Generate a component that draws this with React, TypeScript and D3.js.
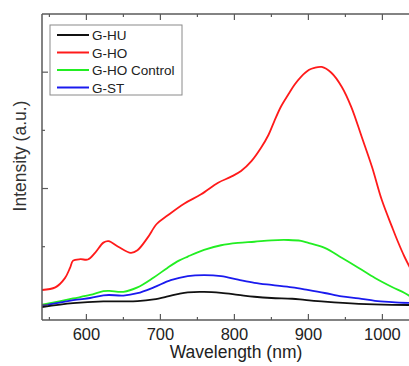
import { useEffect, useRef } from 'react';
import * as d3 from 'd3';

// wavelength (nm) / intensity (a.u.)
const redX = [540, 558, 571, 578, 582, 592, 602, 612, 623, 630, 643, 660, 669, 683, 695, 710, 732, 755, 778, 795, 809, 823, 836, 846, 854, 863, 873, 881, 890, 901, 908, 918, 931, 945, 958, 972, 986, 999, 1013, 1020, 1030, 1039];
const redY = [256, 300, 460, 640, 760, 785, 780, 900, 1070, 1095, 1000, 895, 940, 1160, 1390, 1540, 1740, 1900, 2100, 2200, 2300, 2470, 2700, 2920, 3160, 3410, 3620, 3780, 3920, 4040, 4075, 4090, 3990, 3750, 3400, 2890, 2370, 1810, 1340, 1115, 823, 600];

const greenX = [540, 582, 605, 623, 631, 650, 669, 691, 710, 725, 737, 759, 782, 805, 827, 850, 873, 890, 899, 922, 945, 968, 990, 1013, 1030, 1039];
const greenY = [2, 110, 170, 235, 240, 225, 300, 470, 640, 760, 830, 945, 1025, 1065, 1085, 1110, 1115, 1100, 1070, 980, 810, 634, 462, 307, 204, 135];

const blueX = [540, 582, 605, 623, 631, 650, 669, 691, 714, 737, 759, 782, 805, 827, 850, 878, 899, 922, 945, 968, 990, 1013, 1039];
const blueY = [-19, 80, 118, 165, 170, 160, 200, 300, 425, 495, 512, 495, 435, 380, 342, 300, 256, 204, 145, 110, 70, 49, 32];

const blackX = [540, 582, 623, 650, 669, 691, 710, 725, 737, 759, 782, 805, 827, 850, 878, 895, 922, 968, 1013, 1039];
const blackY = [-37, 30, 60, 60, 65, 95, 145, 190, 215, 222, 205, 172, 140, 118, 105, 85, 55, 18, 0, -2];

const seriesNames = ['G-HU', 'G-HO', 'G-HO Control', 'G-ST'];
const seriesColors = ['#111111', '#ff1a1a', '#22ee22', '#1a1aee'];
const xTicks = [600, 700, 800, 900, 1000];
const xMinor = [550, 650, 750, 850, 950, 1050];
const yMajor = [0, 2000, 4000];
const yMinor = [1000, 3000];

export default function App() {
  const svgRef = useRef<SVGSVGElement>(null);

  useEffect(() => {
    if (!svgRef.current) return;
    const width = 409;
    const height = 366;
    const margin = { top: 14, right: -3, bottom: 46, left: 42 };
    const innerWidth = width - margin.left - margin.right;
    const innerHeight = height - margin.top - margin.bottom;
    const font = '"Liberation Sans", Arial, sans-serif';
    const axisColor = '#5a5a5a';

    const svg = d3.select(svgRef.current);
    svg.selectAll('*').remove();

    const x = d3.scaleLinear().domain([540, 1040]).range([0, innerWidth]);
    const y = d3.scaleLinear().domain([-260, 5000]).range([innerHeight, 0]);

    const g = svg.append('g').attr('transform', `translate(${margin.left},${margin.top})`);

    g.append('clipPath').attr('id', 'plot-clip')
      .append('rect').attr('width', innerWidth).attr('height', innerHeight);

    const series = [
      { name: seriesNames[0], color: seriesColors[0], xs: blackX, ys: blackY },
      { name: seriesNames[1], color: seriesColors[1], xs: redX, ys: redY },
      { name: seriesNames[2], color: seriesColors[2], xs: greenX, ys: greenY },
      { name: seriesNames[3], color: seriesColors[3], xs: blueX, ys: blueY },
    ];

    const line = d3.line<[number, number]>()
      .x(d => x(d[0]))
      .y(d => y(d[1]))
      .curve(d3.curveCatmullRom.alpha(0.5));

    const drawOrder = [1, 2, 3, 0];
    const lines = g.append('g').attr('clip-path', 'url(#plot-clip)');
    drawOrder.forEach(i => {
      const s = series[i];
      lines.append('path')
        .attr('d', line(s.xs.map((v, k) => [v, s.ys[k]] as [number, number])))
        .attr('fill', 'none')
        .attr('stroke', s.color)
        .attr('stroke-width', 1.8)
        .attr('stroke-linejoin', 'round');
    });

    // frame
    g.append('line').attr('x1', 0).attr('x2', 0).attr('y1', 0).attr('y2', innerHeight)
      .attr('stroke', axisColor).attr('stroke-width', 1.5);
    g.append('line').attr('x1', 0).attr('x2', innerWidth).attr('y1', 0).attr('y2', 0)
      .attr('stroke', axisColor).attr('stroke-width', 1.5);
    g.append('line').attr('x1', 0).attr('x2', innerWidth).attr('y1', innerHeight).attr('y2', innerHeight)
      .attr('stroke', axisColor).attr('stroke-width', 1.5);

    // ticks point inward on top, bottom and left
    const tickG = g.append('g').attr('stroke', axisColor).attr('stroke-width', 1.2);
    xTicks.forEach(t => {
      tickG.append('line').attr('x1', x(t)).attr('x2', x(t)).attr('y1', innerHeight).attr('y2', innerHeight - 6);
      tickG.append('line').attr('x1', x(t)).attr('x2', x(t)).attr('y1', 0).attr('y2', 6);
    });
    xMinor.forEach(t => {
      tickG.append('line').attr('x1', x(t)).attr('x2', x(t)).attr('y1', innerHeight).attr('y2', innerHeight - 3);
      tickG.append('line').attr('x1', x(t)).attr('x2', x(t)).attr('y1', 0).attr('y2', 3);
    });
    yMajor.forEach(t => {
      tickG.append('line').attr('x1', 0).attr('x2', 6).attr('y1', y(t)).attr('y2', y(t));
    });
    yMinor.forEach(t => {
      tickG.append('line').attr('x1', 0).attr('x2', 3).attr('y1', y(t)).attr('y2', y(t));
    });

    g.append('g').selectAll('text').data(xTicks).join('text')
      .attr('x', d => x(d))
      .attr('y', innerHeight + 20)
      .attr('text-anchor', 'middle')
      .attr('font-family', font)
      .attr('font-size', 16.5)
      .attr('fill', '#222')
      .text(d => d);

    svg.append('text')
      .attr('x', 236).attr('y', 358)
      .attr('text-anchor', 'middle')
      .attr('font-family', font)
      .attr('font-size', 17.5)
      .attr('fill', '#222')
      .text('Wavelength (nm)');

    svg.append('text')
      .attr('transform', 'translate(26,156) rotate(-90)')
      .attr('text-anchor', 'middle')
      .attr('font-family', font)
      .attr('font-size', 17.5)
      .attr('fill', '#333')
      .text('Intensity (a.u.)');

    // legend
    const lg = svg.append('g').attr('transform', 'translate(50,25)');
    lg.append('rect').attr('width', 132).attr('height', 70)
      .attr('fill', '#fff').attr('stroke', '#8a8a8a').attr('stroke-width', 1);
    series.forEach((s, i) => {
      const yy = 10 + i * 17.5;
      lg.append('line').attr('x1', 7).attr('x2', 39).attr('y1', yy).attr('y2', yy)
        .attr('stroke', s.color).attr('stroke-width', 2);
      lg.append('text').attr('x', 42).attr('y', yy + 5)
        .attr('font-family', font).attr('font-size', 13.5).attr('fill', '#222')
        .text(s.name);
    });
  }, []);

  return (
    <svg ref={svgRef} width={409} height={366}
      style={{ position: 'absolute', left: 0, top: 0, background: '#fff' }} />
  );
}
